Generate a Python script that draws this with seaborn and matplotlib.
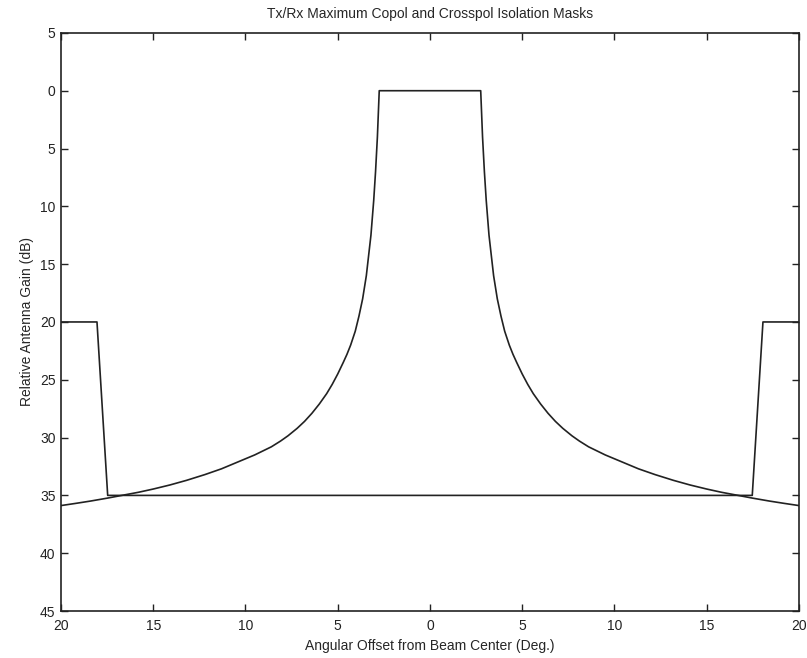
import numpy as np
import pandas as pd
import seaborn as sns
import matplotlib
matplotlib.use("Agg")
import matplotlib.pyplot as plt

# one-sided copol mask (offset deg, isolation dB below peak)
copol_offset = [2.75, 2.85, 2.95, 3.05, 3.2, 3.45, 3.65, 3.85, 4.05, 4.3, 4.5,
                4.7, 5.0, 5.3, 5.6, 6.0, 6.4, 6.8, 7.2, 7.7, 8.1, 8.6, 9.5,
                10.4, 11.3, 12.2, 13.2, 14.1, 15.0, 15.8, 16.7, 17.5, 18.4,
                19.2, 20.0]
copol_db = [0, 4, 7, 9.5, 12.5, 16, 18, 19.5, 20.8, 22, 22.8,
            23.5, 24.5, 25.4, 26.2, 27.1, 27.9, 28.6, 29.2, 29.85, 30.3, 30.8, 31.5,
            32.1, 32.7, 33.2, 33.7, 34.1, 34.45, 34.73, 35.0, 35.24, 35.49,
            35.69, 35.88]

# crosspol isolation mask
xpol_offset = [-20, -18.05, -17.47, 17.47, 18.05, 20]
xpol_db = [20, 20, 35, 35, 20, 20]

xticks = [-20, -15, -10, -5, 0, 5, 10, 15, 20]
yticks = [5, 0, -5, -10, -15, -20, -25, -30, -35, -40, -45]

# mirror the copol side to both sides of beam center
off = np.array(copol_offset)
db = np.array(copol_db)
copol = pd.DataFrame({
    "offset": np.concatenate([-off[::-1], off]),
    "gain": -np.concatenate([db[::-1], db]),
})
xpol = pd.DataFrame({"offset": xpol_offset, "gain": -np.array(xpol_db)})

sns.set_style("ticks")
plt.rcParams["font.family"] = ["Liberation Sans", "DejaVu Sans"]

fig = plt.figure(figsize=(8.07, 6.58), dpi=100)
ax = fig.add_axes([0.0756, 0.0714, 0.9144, 0.8786])

sns.lineplot(data=copol, x="offset", y="gain", sort=False, color="#222222",
             linewidth=1.2, ax=ax)
sns.lineplot(data=xpol, x="offset", y="gain", sort=False, color="#222222",
             linewidth=1.2, ax=ax)

ax.set_xlim(-20, 20)
ax.set_ylim(-45, 5)
ax.set_xticks(xticks)
ax.set_xticklabels([str(abs(t)) for t in xticks])
ax.set_yticks(yticks)
ax.set_yticklabels([str(abs(t)) for t in yticks])
ax.tick_params(direction="in", length=5, width=1, top=True, right=True,
               labelsize=10, colors="#222222")
ax.tick_params(axis="x", pad=6)
ax.tick_params(axis="y", pad=4)
for s in ax.spines.values():
    s.set_linewidth(1.2)
    s.set_color("#222222")

ax.set_xlabel("Angular Offset from Beam Center (Deg.)", fontsize=10, labelpad=4)
ax.set_ylabel("Relative Antenna Gain (dB)", fontsize=10, labelpad=4)
ax.set_title("Tx/Rx Maximum Copol and Crosspol Isolation Masks", fontsize=10, pad=11)

plt.savefig("out.png", dpi=100)
